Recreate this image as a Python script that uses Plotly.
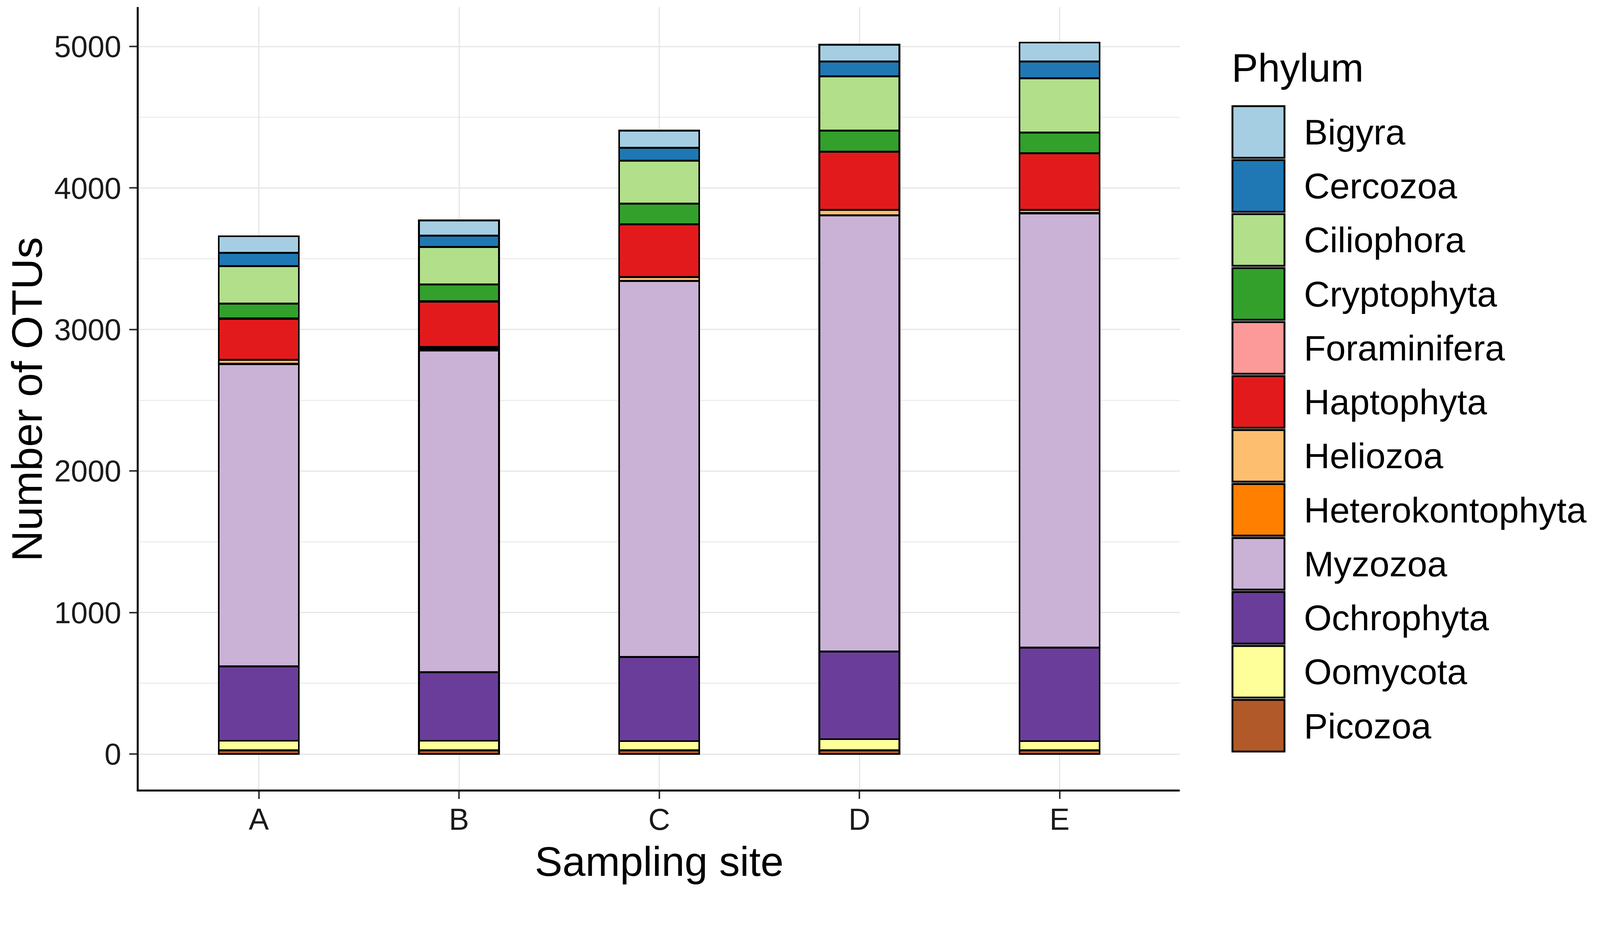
import plotly.graph_objects as go

# OTU counts per phylum and sampling site
sites = ["A", "B", "C", "D", "E"]

phyla = ["Bigyra", "Cercozoa", "Ciliophora", "Cryptophyta", "Foraminifera",
         "Haptophyta", "Heliozoa", "Heterokontophyta", "Myzozoa",
         "Ochrophyta", "Oomycota", "Picozoa"]

bigyra = [118, 107, 121, 118, 134]
cercozoa = [94, 79, 92, 105, 119]
ciliophora = [264, 265, 303, 384, 384]
cryptophyta = [105, 119, 145, 147, 145]
foraminifera = [2, 2, 2, 2, 2]
haptophyta = [290, 322, 372, 410, 398]
heliozoa = [28, 12, 26, 38, 23]
heterokontophyta = [2, 12, 2, 2, 2]
myzozoa = [2137, 2274, 2656, 3081, 3070]
ochrophyta = [525, 484, 595, 620, 660]
oomycota = [67, 67, 65, 79, 65]
picozoa = [27, 27, 26, 26, 26]

counts = [bigyra, cercozoa, ciliophora, cryptophyta, foraminifera, haptophyta,
          heliozoa, heterokontophyta, myzozoa, ochrophyta, oomycota, picozoa]

# RColorBrewer "Paired"
colors = ["#A6CEE3", "#1F78B4", "#B2DF8A", "#33A02C", "#FB9A99", "#E31A1C",
          "#FDBF6F", "#FF7F00", "#CAB2D6", "#6A3D9A", "#FFFF99", "#B15928"]

# layout measured on the 4246x2374 original; the page is shown a bit zoomed,
# so everything is scaled by K and shifted by the 8px body margin
K = 0.965
OFF = 8


def sz(v):
    return v * K


def pos(v):
    return v * K - OFF


W = int(round(4246 * K)) - 2 * OFF
H = int(round(2374 * K)) - 2 * OFF
L, R, T, B = pos(368), pos(3130), pos(19), pos(2095)
FONT = "Liberation Sans, Arial, sans-serif"


def px_x(px):
    return (pos(px) - L) / (R - L)


def px_y(py):
    return (B - pos(py)) / (B - T)


fig = go.Figure()

# ggplot stacks the first factor level on top, so add from the bottom up
for name, vals, col in reversed(list(zip(phyla, counts, colors))):
    fig.add_trace(go.Bar(
        x=sites, y=vals, name=name, width=0.4,
        marker=dict(color=col, line=dict(color="black", width=sz(5))),
        showlegend=False,
    ))

# legend drawn by hand so the keys are as big as in the original
shapes = []
annotations = []
key_top, key_h, key_step = 282, 137, 143.2
for i, (name, col) in enumerate(zip(phyla, colors)):
    y0 = key_top + key_step * i
    shapes.append(dict(
        type="rect", xref="paper", yref="paper",
        x0=px_x(3270), x1=px_x(3408), y0=px_y(y0 + key_h), y1=px_y(y0),
        fillcolor=col, line=dict(color="black", width=sz(5)),
    ))
    annotations.append(dict(
        text=name, xref="paper", yref="paper", showarrow=False,
        x=px_x(3457), y=px_y(y0 + key_h / 2), xanchor="left", yanchor="middle",
        font=dict(family=FONT, size=sz(95), color="black"),
    ))

annotations.append(dict(
    text="Phylum", xref="paper", yref="paper", showarrow=False,
    x=px_x(3266), y=px_y(180), xanchor="left", yanchor="middle",
    font=dict(family=FONT, size=sz(105), color="black"),
))
annotations.append(dict(
    text="Sampling site", xref="paper", yref="paper", showarrow=False,
    x=0.5, y=px_y(2286), xanchor="center", yanchor="middle",
    font=dict(family=FONT, size=sz(110), color="black"),
))
annotations.append(dict(
    text="Number of OTUs", xref="paper", yref="paper", showarrow=False,
    x=px_x(72), y=px_y(1060), xanchor="center", yanchor="middle",
    textangle=-90,
    font=dict(family=FONT, size=sz(114), color="black"),
))

fig.update_layout(
    width=W, height=H,
    margin=dict(l=L, r=W - R, t=T, b=H - B, pad=0),
    barmode="stack",
    plot_bgcolor="white",
    paper_bgcolor="white",
    font=dict(family=FONT, color="#1A1A1A"),
    shapes=shapes,
    annotations=annotations,
)

fig.update_xaxes(
    type="category", range=[-0.6, 4.6],
    showline=True, linecolor="black", linewidth=sz(5),
    showgrid=True, gridcolor="#E6E6E6", gridwidth=sz(3),
    ticks="outside", ticklen=sz(20), tickwidth=sz(4), tickcolor="#333333",
    tickfont=dict(family=FONT, size=sz(80), color="#1A1A1A"),
    ticklabelstandoff=-14,
)

fig.update_yaxes(
    range=[-251, 5279],
    tickmode="array", tickvals=[0, 1000, 2000, 3000, 4000, 5000],
    showline=True, linecolor="black", linewidth=sz(5),
    showgrid=True, gridcolor="#E6E6E6", gridwidth=sz(3),
    zeroline=False,
    minor=dict(tickvals=[500, 1500, 2500, 3500, 4500], showgrid=True,
               gridcolor="#EDEDED", gridwidth=sz(3), ticks=""),
    ticks="outside", ticklen=sz(20), tickwidth=sz(4), tickcolor="#333333",
    tickfont=dict(family=FONT, size=sz(80), color="#1A1A1A"),
    ticklabelstandoff=5,
)

fig.write_html("out.html")
